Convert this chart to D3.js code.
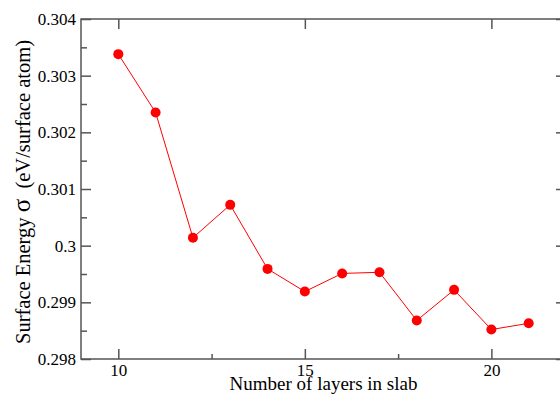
<!DOCTYPE html>
<html>
<head>
<meta charset="utf-8">
<script src="https://cdn.jsdelivr.net/npm/d3@7"></script>
<style>
  body { margin: 0; background: #fff; }
  svg { display: block; }
  svg text { font-family: "Liberation Serif", "Times New Roman", serif; fill: #000; }
</style>
</head>
<body>
<div id="chart"></div>
<script>
// layers in slab vs. surface energy
const layers = [10, 11, 12, 13, 14, 15, 16, 17, 18, 19, 20, 21];
const energy = [0.30338, 0.30235, 0.30014, 0.30072, 0.29959, 0.29919,
                0.29951, 0.29953, 0.29868, 0.29922, 0.29852, 0.29863];

const xTicks = [10, 15, 20];
const xMinor = [12.5, 17.5];
const yTicks = [0.298, 0.299, 0.3, 0.301, 0.302, 0.303, 0.304];
const yTickLabels = ['0.298', '0.299', '0.3', '0.301', '0.302', '0.303', '0.304'];
const yMinor = [0.2985, 0.2995, 0.3005, 0.3015, 0.3025, 0.3035];

const width = 560;
const height = 398;
const margin = { top: 19, right: -6, bottom: 39, left: 81 };
const innerW = width - margin.left - margin.right;
const innerH = height - margin.top - margin.bottom;
const serif = 'Liberation Serif, Times New Roman, serif';

const svg = d3.select('#chart')
  .append('svg')
  .attr('width', width)
  .attr('height', height)
  .attr('font-family', serif);

const g = svg.append('g')
  .attr('transform', `translate(${margin.left},${margin.top})`);

const x = d3.scaleLinear().domain([9, 22]).range([0, innerW]);
const y = d3.scaleLinear().domain([0.298, 0.304]).range([innerH, 0]);

const axisColor = '#555';

function styleAxis(sel) {
  sel.attr('font-family', serif).attr('font-size', 17);
  sel.select('.domain').remove();
  sel.selectAll('line').attr('stroke', axisColor).attr('stroke-width', 1.5);
  sel.selectAll('text').attr('fill', '#000');
}

// bottom: major + minor, inward ticks
g.append('g')
  .attr('transform', `translate(0,${innerH})`)
  .call(d3.axisBottom(x).tickValues(xTicks).tickSize(-10).tickPadding(5).tickFormat(d3.format('d')))
  .call(styleAxis);
g.append('g')
  .attr('transform', `translate(0,${innerH})`)
  .call(d3.axisBottom(x).tickValues(xMinor).tickSize(-5).tickFormat(''))
  .call(styleAxis);

// top: major ticks only
g.append('g')
  .call(d3.axisTop(x).tickValues(xTicks).tickSize(-10).tickFormat(''))
  .call(styleAxis);

// left: major + minor
g.append('g')
  .call(d3.axisLeft(y).tickValues(yTicks).tickSize(-10).tickPadding(5)
    .tickFormat((d, i) => yTickLabels[i]))
  .call(styleAxis);
g.append('g')
  .call(d3.axisLeft(y).tickValues(yMinor).tickSize(-6).tickFormat(''))
  .call(styleAxis);

// right: major ticks only
g.append('g')
  .attr('transform', `translate(${innerW},0)`)
  .call(d3.axisRight(y).tickValues(yTicks).tickSize(-10).tickFormat(''))
  .call(styleAxis);

// frame
g.append('rect')
  .attr('x', 0)
  .attr('y', 0)
  .attr('width', innerW)
  .attr('height', innerH)
  .attr('fill', 'none')
  .attr('stroke', axisColor)
  .attr('stroke-width', 1.5);

const line = d3.line()
  .x((d, i) => x(layers[i]))
  .y((d) => y(d));

g.append('path')
  .datum(energy)
  .attr('d', line)
  .attr('fill', 'none')
  .attr('stroke', '#ff0000')
  .attr('stroke-width', 1);

g.selectAll('.dot')
  .data(energy)
  .enter()
  .append('circle')
  .attr('class', 'dot')
  .attr('cx', (d, i) => x(layers[i]))
  .attr('cy', (d) => y(d))
  .attr('r', 5)
  .attr('fill', '#ff0000');

// axis titles
svg.append('text')
  .attr('x', margin.left + (x(9) + x(22)) / 2)
  .attr('y', 390)
  .attr('text-anchor', 'middle')
  .attr('font-size', 19)
  .text('Number of layers in slab');

const yTitle = svg.append('text')
  .attr('transform', 'rotate(-90)')
  .attr('x', -192)
  .attr('y', 30)
  .attr('text-anchor', 'middle')
  .attr('font-size', 20.5);
yTitle.append('tspan').text('Surface Energy ');
yTitle.append('tspan').attr('font-size', 25).text('σ');
yTitle.append('tspan').text('\u00a0 (eV/surface atom)');
</script>
</body>
</html>
